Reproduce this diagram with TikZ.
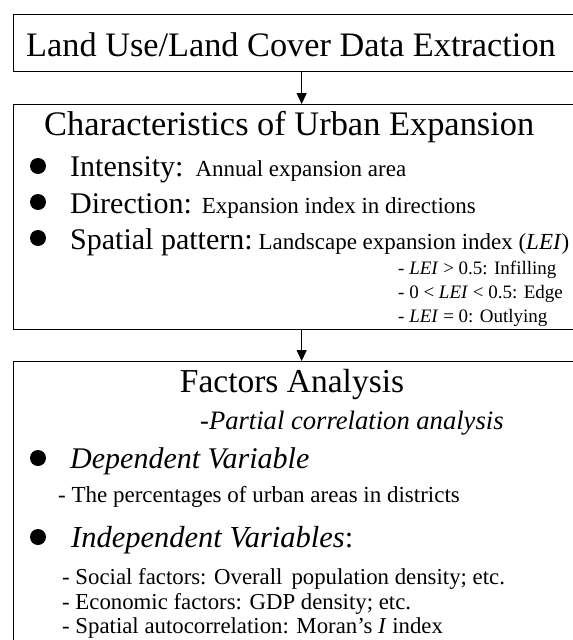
\documentclass[tikz,border=0pt]{standalone}
\usepackage{fontspec}
\setmainfont{Liberation Serif}
\usetikzlibrary{arrows.meta}
\newcommand\fsz[1]{\fontsize{#1}{#1}\selectfont}
\begin{document}
\begin{tikzpicture}[x=1pt,y=-1pt,
  box/.style={draw, line width=1.3pt, minimum width=577pt, inner sep=0pt, anchor=north west},
  conn/.style={line width=1.1pt, -{Triangle[width=10pt,length=11pt]}},
  txt/.style={anchor=base west, inner sep=0pt},
  dot/.style={circle, fill, inner sep=0pt, minimum size=16pt}]
\useasboundingbox (0,0) rectangle (573,640);
\clip (0,0) rectangle (573,640);
% boxes
\node[box, minimum height=57pt] (b1) at (12.5,14) {};
\node[box, minimum height=225pt] (b2) at (12.5,104) {};
\node[box, minimum height=340pt] (b3) at (12.5,361) {};
% connectors
\draw[conn] (b1.south) -- (b2.north);
\draw[conn] (b2.north |- b2.south) -- (b3.north);
% box 1
\node[txt] (t1) at (26,56) {\fsz{34.3}Land Use/Land Cover Data Extraction};
% box 2
\node[txt] (t2) at (44,135) {\fsz{34.4}Characteristics of Urban Expansion};
\node[dot] (d1) at (38,166) {};
\node[dot] (d2) at (38,202) {};
\node[dot] (d3) at (38,238) {};
\node[txt] (i1) at (70,176) {\fsz{30}Intensity:\hspace{12pt}\fsz{23}Annual expansion area};
\node[txt] (i2) at (70,213) {\fsz{30}Direction:\hspace{10pt}\fsz{23}Expansion index in directions};
\node[txt] (i3) at (70,249) {\fsz{30}Spatial pattern:\hspace{6pt}\fsz{23}Landscape expansion index (\textit{LEI})};
\node[txt] (s1) at (398,274) {\fsz{19}- \textit{LEI} > 0.5: Infilling};
\node[txt] (s2) at (398,298) {\fsz{19}- 0 < \textit{LEI} < 0.5: Edge};
\node[txt] (s3) at (398,322) {\fsz{19}- \textit{LEI} = 0: Outlying};
% box 3
\node[anchor=base, inner sep=0pt] (t3) at (292,392) {\fsz{33.5}Factors Analysis};
\node[txt] (p1) at (200,429) {\fsz{26.6}\itshape -Partial correlation analysis};
\node[dot] (d4) at (38,458) {};
\node[txt] (v1) at (70,468) {\fsz{30}\textit{Dependent Variable}};
\node[txt] (v1a) at (58,502) {\fsz{23}- The percentages of urban areas in districts};
\node[dot] (d5) at (38,537) {};
\node[txt] (v2) at (71,547) {\fsz{30.5}\textit{Independent Variables}:};
\node[txt] (v2a) at (62,584) {\fsz{22.8}- Social factors: Overall\hspace{9pt}population density; etc.};
\node[txt] (v2b) at (62,609) {\fsz{22.8}- Economic factors: GDP density; etc.};
\node[txt] (v2c) at (62,633) {\fsz{22.8}- Spatial autocorrelation: Moran’s \textit{I} index};
\end{tikzpicture}
\end{document}
